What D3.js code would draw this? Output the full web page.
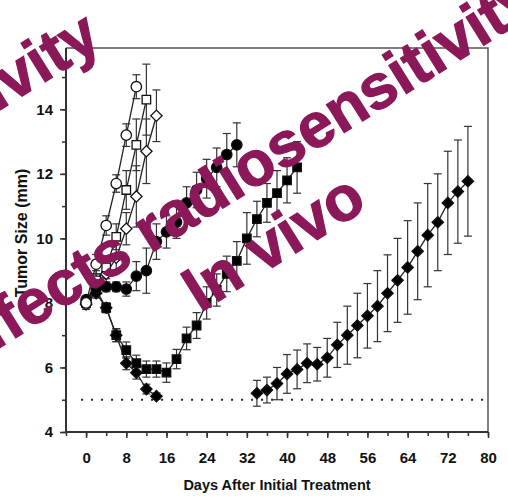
<!DOCTYPE html>
<html><head><meta charset="utf-8">
<script src="https://cdn.jsdelivr.net/npm/d3@7"></script>
<style>
html,body{margin:0;padding:0;background:#fff;}
svg{display:block;font-family:"Liberation Sans",Arial,sans-serif;}
</style></head>
<body>
<svg id="chart" width="508" height="498"></svg>
<script>
// ---- data ----
const xTicks = [0, 8, 16, 24, 32, 40, 48, 56, 64, 72, 80];
const yTicks = [4, 6, 8, 10, 12, 14];
const xLabel = "Days After Initial Treatment";
const yLabel = "Tumor Size (mm)";
const threshold = 5;

const openCircleDays = [0, 2, 4, 6, 8, 10];
const openCircleVals = [8.0, 9.2, 10.4, 11.7, 13.2, 14.7];
const openCircleErr  = [0.15, 0.3, 0.3, 0.27, 0.35, 0.37];

const openSquareDays = [0, 2, 4, 6, 8, 10, 12];
const openSquareVals = [8.0, 8.7, 9.1, 10.05, 11.5, 12.9, 14.3];
const openSquareErr  = [0.15, 0.3, 0.35, 0.4, 0.6, 0.8, 1.1];

const openDiamondDays = [0, 2, 4, 6, 8, 10, 12, 14];
const openDiamondVals = [7.95, 8.6, 8.9, 9.4, 10.3, 11.3, 12.7, 13.8];
const openDiamondErr  = [0.15, 0.3, 0.35, 0.4, 0.5, 0.95, 1.0, 0.8];

const filledCircleDays = [0, 2, 4, 6, 8, 10, 12, 14, 16, 18, 20, 22, 24, 26, 28, 30];
const filledCircleVals = [8.1, 8.45, 8.5, 8.5, 8.43, 8.83, 9.0, 9.9, 10.2, 10.5, 11.1, 11.5, 11.85, 12.2, 12.6, 12.9];
const filledCircleErr  = [0.1, 0.15, 0.15, 0.15, 0.22, 0.45, 0.7, 0.55, 0.5, 0.5, 0.5, 0.55, 0.6, 0.6, 0.65, 0.68];

const filledSquareDays = [0, 2, 4, 6, 8, 10, 12, 14, 16, 18, 20, 22, 24, 26, 28, 30, 32, 34, 36, 38, 40, 42];
const filledSquareVals = [8.0, 8.4, 7.85, 7.0, 6.54, 6.13, 5.95, 5.95, 5.84, 6.26, 6.9, 7.3, 8.0, 8.4, 8.9, 9.3, 10.0, 10.6, 11.1, 11.4, 11.8, 12.2];
const filledSquareErr  = [0.1, 0.15, 0.15, 0.2, 0.25, 0.25, 0.25, 0.25, 0.3, 0.3, 0.35, 0.4, 0.5, 0.5, 0.55, 0.6, 0.8, 0.55, 0.6, 0.7, 0.7, 0.8];

const earlyDiamondDays = [0, 2, 4, 6, 8, 10, 12, 14];
const earlyDiamondVals = [8.0, 8.3, 7.85, 7.0, 6.13, 5.84, 5.33, 5.11];
const earlyDiamondErr  = [0.1, 0.15, 0.15, 0.2, 0.2, 0.2, 0.15, 0.1];

const lateDiamondDays = [34, 36, 38, 40, 42, 44, 46, 48, 50, 52, 54, 56, 58, 60, 62, 64, 66, 68, 70, 72, 74, 76];
const lateDiamondVals = [5.2, 5.3, 5.5, 5.8, 5.94, 6.13, 6.1, 6.3, 6.7, 7.0, 7.3, 7.6, 7.9, 8.3, 8.7, 9.1, 9.6, 10.1, 10.5, 11.1, 11.45, 11.77];
const lateDiamondErr  = [0.4, 0.4, 0.5, 0.6, 0.6, 0.6, 0.52, 0.6, 0.7, 0.9, 1.0, 1.0, 1.1, 1.19, 1.3, 1.45, 1.5, 1.6, 1.5, 1.6, 1.6, 1.7];

const overlayLines = ["ivity", "ffects radiosensitivity", "In vivo"];

// ---- drawing ----
const svg = d3.select("#chart");
const x = d3.scaleLinear().domain([-4, 80]).range([66, 488]);
const y = d3.scaleLinear().domain([4, 15.9]).range([432, 48]);

const series = [
  {days: filledSquareDays, vals: filledSquareVals, err: filledSquareErr, shape: "square", fill: "#000"},
  {days: earlyDiamondDays, vals: earlyDiamondVals, err: earlyDiamondErr, shape: "diamond", fill: "#000"},
  {days: filledCircleDays, vals: filledCircleVals, err: filledCircleErr, shape: "circle", fill: "#000"},
  {days: lateDiamondDays, vals: lateDiamondVals, err: lateDiamondErr, shape: "diamond", fill: "#000"},
  {days: openDiamondDays, vals: openDiamondVals, err: openDiamondErr, shape: "diamond", fill: "#fff"},
  {days: openSquareDays, vals: openSquareVals, err: openSquareErr, shape: "square", fill: "#fff"},
  {days: openCircleDays, vals: openCircleVals, err: openCircleErr, shape: "circle", fill: "#fff"}
];

// frame
svg.append("path")
  .attr("d", `M${x(-4)},${y(15.9)}H${x(80)}V${y(4)}`)
  .attr("fill", "none").attr("stroke", "#555").attr("stroke-width", 1.5);

// dotted threshold
svg.append("line")
  .attr("x1", x(-1)).attr("x2", x(80))
  .attr("y1", y(threshold)).attr("y2", y(threshold))
  .attr("stroke", "#222").attr("stroke-width", 2)
  .attr("stroke-dasharray", "2,8");

// axes
const xMinor = d3.range(-4, 81, 4);
const yMinor = d3.range(4, 16, 1);
svg.append("g").attr("transform", `translate(0,${y(4)})`)
  .call(d3.axisBottom(x).tickValues(xMinor).tickSize(4).tickFormat(""))
  .call(g => g.select(".domain").remove());
svg.append("g").attr("transform", `translate(${x(-4)},0)`)
  .call(d3.axisLeft(y).tickValues(yMinor).tickSize(4).tickFormat(""))
  .call(g => g.select(".domain").remove());

const gx = svg.append("g").attr("transform", `translate(0,${y(4)})`)
  .call(d3.axisBottom(x).tickValues(xTicks).tickSize(6).tickPadding(14).tickFormat(d3.format("d")).tickSizeOuter(0));
const gy = svg.append("g").attr("transform", `translate(${x(-4)},0)`)
  .call(d3.axisLeft(y).tickValues(yTicks).tickSize(6).tickPadding(7).tickFormat(d3.format("d")).tickSizeOuter(0));
[gx, gy].forEach(g => {
  g.selectAll("text").attr("font-size", 15).attr("font-weight", "bold").attr("fill", "#111")
    .attr("font-family", '"Liberation Sans",Arial,sans-serif');
  g.selectAll("line").attr("stroke", "#333").attr("stroke-width", 1.5);
  g.select(".domain").attr("stroke", "#333").attr("stroke-width", 2);
});
svg.selectAll("g line").attr("stroke", "#333").attr("stroke-width", 1.5);
gx.select(".domain").attr("d", `M${x(-4)},0H${x(80)}`);
gy.select(".domain").attr("d", `M0,${y(4)}V${y(15.9)}`);

// axis titles
svg.append("text").attr("x", 277).attr("y", 490).attr("text-anchor", "middle")
  .attr("font-size", 14.5).attr("font-weight", "bold").attr("fill", "#111").text(xLabel);
svg.append("text").attr("transform", `translate(27,233) rotate(-90)`).attr("text-anchor", "middle")
  .attr("font-size", 16).attr("font-weight", "bold").attr("fill", "#111").text(yLabel);

// series lines + error bars
const line = d3.line().x(d => x(d[0])).y(d => y(d[1]));
series.forEach(s => {
  const pts = s.days.map((d, i) => [d, s.vals[i], s.err[i]]);
  const g = svg.append("g");
  const eb = g.selectAll("g.eb").data(pts).join("g").attr("stroke", "#333").attr("stroke-width", 1.2);
  eb.append("line").attr("x1", d => x(d[0])).attr("x2", d => x(d[0]))
    .attr("y1", d => y(d[1] - d[2])).attr("y2", d => y(d[1] + d[2]));
  eb.append("line").attr("x1", d => x(d[0]) - 4).attr("x2", d => x(d[0]) + 4)
    .attr("y1", d => y(d[1] + d[2])).attr("y2", d => y(d[1] + d[2]));
  eb.append("line").attr("x1", d => x(d[0]) - 4).attr("x2", d => x(d[0]) + 4)
    .attr("y1", d => y(d[1] - d[2])).attr("y2", d => y(d[1] - d[2]));
  g.append("path").attr("d", line(pts)).attr("fill", "none").attr("stroke", "#222").attr("stroke-width", 1.3);
  s.pts = pts;
});
// markers
const sym = {
  circle: d3.symbol().type(d3.symbolCircle).size(85),
  square: d3.symbol().type(d3.symbolSquare).size(72),
  diamond: d3.symbol().type(d3.symbolSquare).size(64)
};
series.forEach(s => {
  svg.append("g").selectAll("path").data(s.pts).join("path")
    .attr("d", sym[s.shape]())
    .attr("transform", d => `translate(${x(d[0])},${y(d[1])})` + (s.shape === "diamond" ? " rotate(45)" : ""))
    .attr("fill", s.fill).attr("stroke", "#111").attr("stroke-width", 1.3);
});

// overlay text
const ov = svg.append("g").attr("fill", "#8B1858").attr("stroke", "#8B1858").attr("stroke-width", 1.2)
  .attr("font-weight", "bold").attr("font-size", 63)
  .attr("font-family", '"Liberation Sans",Arial,sans-serif');
const ovPos = [[-3, 112], [-7, 352], [200, 313]];
overlayLines.forEach((t, i) => {
  ov.append("text").attr("transform", `translate(${ovPos[i][0]},${ovPos[i][1]}) rotate(-32)`).text(t);
});
</script>
</body></html>
